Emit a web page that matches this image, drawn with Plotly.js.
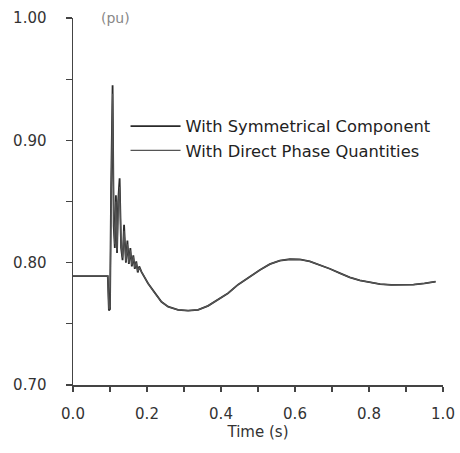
<!DOCTYPE html>
<html>
<head>
<meta charset="utf-8">
<script src="https://cdn.plot.ly/plotly-3.0.1.min.js"></script>
<style>html,body{margin:0;padding:0;background:#fff;}#chart{width:460px;height:453px;}</style>
</head>
<body>
<div id="chart"></div>
<script>
// Time (s)
var timeSym = [0, 0.094, 0.097, 0.100, 0.103, 0.107, 0.110, 0.113, 0.116, 0.119, 0.122, 0.126, 0.130, 0.134, 0.138, 0.143, 0.147, 0.151, 0.155, 0.159, 0.163, 0.167, 0.171, 0.175, 0.179, 0.185, 0.203, 0.221, 0.239, 0.257, 0.284, 0.311, 0.338, 0.365, 0.392, 0.419, 0.446, 0.478, 0.505, 0.532, 0.559, 0.586, 0.613, 0.640, 0.667, 0.694, 0.721, 0.748, 0.775, 0.800, 0.830, 0.860, 0.890, 0.920, 0.950, 0.980];
// Voltage (pu)
var voltSym = [0.789, 0.789, 0.761, 0.762, 0.860, 0.945, 0.830, 0.812, 0.855, 0.808, 0.850, 0.869, 0.812, 0.802, 0.831, 0.800, 0.818, 0.799, 0.812, 0.797, 0.806, 0.795, 0.801, 0.792, 0.797, 0.7925, 0.783, 0.775, 0.768, 0.764, 0.7614, 0.7608, 0.7614, 0.7647, 0.7696, 0.775, 0.782, 0.7886, 0.794, 0.7988, 0.8017, 0.8028, 0.8026, 0.801, 0.7982, 0.795, 0.7914, 0.788, 0.7855, 0.784, 0.7825, 0.7818, 0.7816, 0.782, 0.783, 0.7845];
var timePhase = [0, 0.094, 0.097, 0.100, 0.103, 0.107, 0.110, 0.113, 0.116, 0.119, 0.122, 0.126, 0.130, 0.134, 0.138, 0.143, 0.147, 0.151, 0.155, 0.159, 0.163, 0.167, 0.171, 0.175, 0.179, 0.185, 0.203, 0.221, 0.239, 0.257, 0.284, 0.311, 0.338, 0.365, 0.392, 0.419, 0.446, 0.478, 0.505, 0.532, 0.559, 0.586, 0.613, 0.640, 0.667, 0.694, 0.721, 0.748, 0.775, 0.800, 0.830, 0.860, 0.890, 0.920, 0.950, 0.980];
var voltPhase = [0.789, 0.789, 0.762, 0.764, 0.850, 0.938, 0.835, 0.815, 0.850, 0.810, 0.845, 0.862, 0.815, 0.804, 0.826, 0.801, 0.815, 0.800, 0.810, 0.798, 0.805, 0.796, 0.800, 0.793, 0.796, 0.7925, 0.783, 0.775, 0.768, 0.764, 0.7614, 0.7608, 0.7614, 0.7647, 0.7696, 0.775, 0.782, 0.7886, 0.794, 0.7988, 0.8017, 0.8028, 0.8026, 0.801, 0.7982, 0.795, 0.7914, 0.788, 0.7855, 0.784, 0.7825, 0.7818, 0.7816, 0.782, 0.783, 0.7845];
var seriesNames = ["With Symmetrical Component", "With Direct Phase Quantities"];
var xTickVals = [0, 0.2, 0.4, 0.6, 0.8, 1.0];
var xTickText = ["0.0", "0.2", "0.4", "0.6", "0.8", "1.0"];
var yTickVals = [0.70, 0.80, 0.90, 1.00];
var yTickText = ["0.70", "0.80", "0.90", "1.00"];

var font = "DejaVu Sans, sans-serif";
var traces = [
  {x: timeSym, y: voltSym, name: seriesNames[0], mode: "lines", line: {color: "#2a2a2a", width: 1.8}},
  {x: timePhase, y: voltPhase, name: seriesNames[1], mode: "lines", line: {color: "#555555", width: 1.2}}
];
var layout = {
  width: 460, height: 453,
  margin: {l: 73, r: 17, t: 18, b: 68},
  paper_bgcolor: "#fff", plot_bgcolor: "#fff",
  showlegend: true,
  legend: {x: 0.142, y: 0.752, xanchor: "left", yanchor: "top", bgcolor: "rgba(0,0,0,0)",
    font: {family: font, size: 16.3, color: "#222"}, tracegroupgap: 0, itemwidth: 50},
  xaxis: {range: [0, 1.0], tickvals: xTickVals, ticktext: xTickText, ticks: "outside", ticklen: 5, tickwidth: 1.3,
    tickcolor: "#444", showline: true, linecolor: "#444", linewidth: 1.5, showgrid: false, zeroline: false,
    minor: {dtick: 0.1, ticks: "outside", ticklen: 5, tickwidth: 1.3, tickcolor: "#444", showgrid: false},
    tickfont: {family: font, size: 15, color: "#333"}, ticklabelstandoff: 9,
    title: {text: "Time (s)", font: {family: font, size: 15, color: "#333"}, standoff: 2}},
  yaxis: {range: [0.70, 1.00], tickvals: yTickVals, ticktext: yTickText, ticks: "outside", ticklen: 6, tickwidth: 1.3,
    tickcolor: "#444", showline: true, linecolor: "#444", linewidth: 1.5, showgrid: false, zeroline: false,
    minor: {dtick: 0.05, ticks: "outside", ticklen: 6, tickwidth: 1.3, tickcolor: "#444", showgrid: false},
    tickfont: {family: font, size: 15, color: "#333"}, ticklabelstandoff: 16},
  annotations: [{text: "(pu)", xref: "paper", yref: "paper", x: 0.07, y: 1.0, xanchor: "left", yanchor: "middle",
    showarrow: false, font: {family: font, size: 14, color: "#888"}}]
};
Plotly.newPlot("chart", traces, layout, {displayModeBar: false, staticPlot: true});
</script>
</body>
</html>
